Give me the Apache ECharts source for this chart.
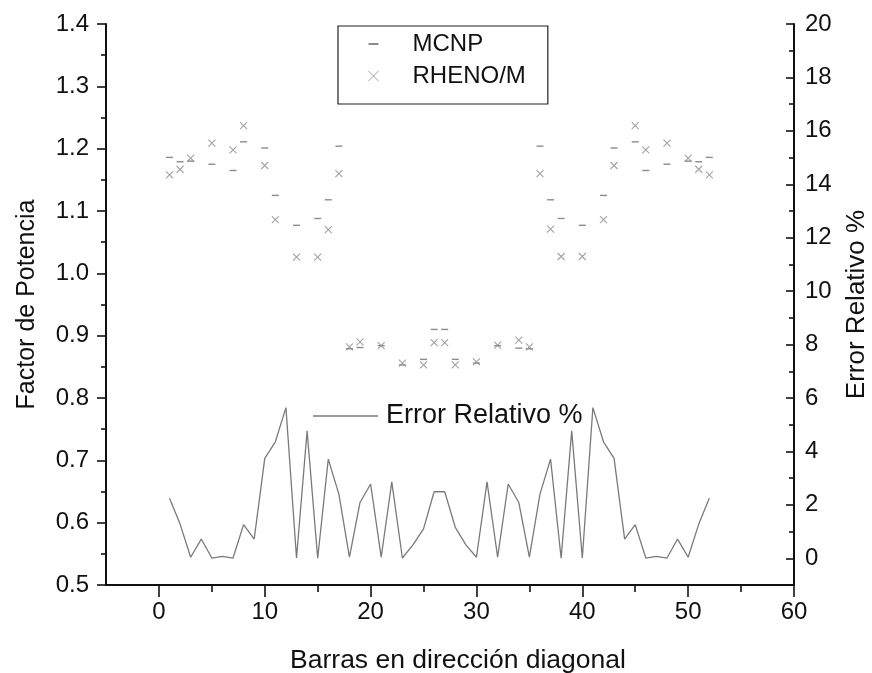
<!DOCTYPE html>
<html>
<head>
<meta charset="utf-8">
<script src="https://cdn.jsdelivr.net/npm/echarts@6/dist/echarts.min.js"></script>
<style>
  html, body { margin: 0; padding: 0; background: #ffffff; }
  #chart { width: 872px; height: 673px; }
</style>
</head>
<body>
<div id="chart"></div>
<script>
// Bar positions along the diagonal that carry a power-factor value
const barPositions = [1, 2, 3, 5, 7, 8, 10, 11, 13, 15, 16, 17, 18, 19, 21, 23, 25, 26, 27, 28, 30, 32, 34, 35,
                      36, 37, 38, 40, 42, 43, 45, 46, 48, 50, 51, 52];
// Power factor computed with MCNP
const mcnp = [1.186, 1.179, 1.180, 1.175, 1.165, 1.211, 1.201, 1.125, 1.077, 1.088, 1.118, 1.204,
              0.879, 0.881, 0.884, 0.853, 0.862, 0.910, 0.910, 0.862, 0.856, 0.884, 0.880, 0.879,
              1.204, 1.118, 1.088, 1.077, 1.125, 1.201, 1.211, 1.165, 1.175, 1.180, 1.179, 1.186];
// Power factor computed with RHENO/M
const rhenoM = [1.158, 1.167, 1.185, 1.209, 1.198, 1.237, 1.173, 1.086, 1.026, 1.026, 1.070, 1.160,
                0.882, 0.890, 0.884, 0.856, 0.853, 0.889, 0.889, 0.853, 0.858, 0.885, 0.893, 0.882,
                1.160, 1.071, 1.027, 1.027, 1.086, 1.173, 1.237, 1.198, 1.209, 1.185, 1.167, 1.158];
// Relative error (%) per bar, bars 1..52
const errorBars = [1, 2, 3, 4, 5, 6, 7, 8, 9, 10, 11, 12, 13, 14, 15, 16, 17, 18, 19, 20, 21, 22, 23, 24, 25, 26,
                   27, 28, 29, 30, 31, 32, 33, 34, 35, 36, 37, 38, 39, 40, 41, 42, 43, 44, 45, 46, 47, 48, 49, 50, 51, 52];
const errorRel = [2.25, 1.28, 0.04, 0.72, 0.01, 0.07, 0.01, 1.26, 0.72, 3.74, 4.36, 5.64, 0.01, 4.77, 0.0, 3.71,
                  2.40, 0.04, 2.09, 2.78, 0.04, 2.86, 0.01, 0.5, 1.10, 2.49, 2.49, 1.16, 0.5, 0.04, 2.86, 0.04,
                  2.78, 2.09, 0.04, 2.40, 3.71, 0.0, 4.77, 0.01, 5.64, 4.36, 3.74, 0.72, 1.26, 0.01, 0.07, 0.01,
                  0.72, 0.04, 1.28, 2.25];

// Tick positions
const xMajorTicks = [0, 10, 20, 30, 40, 50, 60];
const xMinorTicks = [5, 15, 25, 35, 45, 55];
const errMajorTicks = [0, 2, 4, 6, 8, 10, 12, 14, 16, 18, 20];
const errMinorTicks = [1, 3, 5, 7, 9, 11, 13, 15, 17, 19];

const FONT = "'Liberation Sans', Arial, sans-serif";
const INK = '#111111';
const MARK = '#8c8c8c';
const ERR_LINE = '#7a7a7a';
const DASH_ICON = 'path://M0,0h10v2h-10z';
const CROSS_ICON = 'path://M0,0L10,10M10,0L0,10';
const LINE_ICON = 'path://M0,0h65v1.3h-65z';
const TICK_FONT = 24;

const pair = (xs, ys) => xs.map((x, i) => [x, ys[i]]);

const chart = echarts.init(document.getElementById('chart'), null, { renderer: 'canvas' });

chart.setOption({
  animation: false,
  backgroundColor: '#ffffff',
  textStyle: { fontFamily: FONT, color: INK },
  grid: { left: 106, right: 78, top: 24, bottom: 88, containLabel: false, outerBoundsMode: 'none' },
  legend: [
    {
      orient: 'vertical',
      left: 338, top: 26,
      padding: [4, 22, 14, 30],
      itemGap: 4,
      itemWidth: 10, itemHeight: 10,
      borderColor: '#222', borderWidth: 1.2,
      textStyle: { fontFamily: FONT, fontSize: 24, color: INK, padding: [0, 0, 0, 29], lineHeight: 28 },
      itemStyle: { borderWidth: 1 },
      data: [
        { name: 'MCNP', icon: DASH_ICON },
        { name: 'RHENO/M', icon: CROSS_ICON }
      ]
    },
    {
      left: 313, top: 400,
      padding: 0,
      itemWidth: 65, itemHeight: 10,
      textStyle: { fontFamily: FONT, fontSize: 27, color: INK, padding: [0, 0, 0, 3], lineHeight: 32 },
      itemStyle: { color: ERR_LINE },
      data: [{ name: 'Error Relativo %', icon: LINE_ICON }]
    }
  ],
  xAxis: [
    {
      type: 'value', min: -5, max: 60, position: 'bottom',
      name: 'Barras en dirección diagonal', nameLocation: 'middle', nameGap: 62,
      nameTextStyle: { fontFamily: FONT, fontSize: 26.5, color: INK, padding: [0, 0, 0, 16] },
      axisLine: { show: true, onZero: false, lineStyle: { color: INK, width: 2 } },
      axisTick: { show: true, inside: false, length: 12, customValues: xMajorTicks, lineStyle: { color: INK, width: 1.6 } },
      axisLabel: { customValues: xMajorTicks, margin: 15, fontSize: TICK_FONT, color: INK, fontFamily: FONT },
      splitLine: { show: false }
    },
    {
      type: 'value', min: -5, max: 60, position: 'bottom',
      axisLine: { show: false, onZero: false },
      axisTick: { show: true, inside: false, length: 7, customValues: xMinorTicks, lineStyle: { color: INK, width: 1.6 } },
      axisLabel: { show: false },
      splitLine: { show: false }
    }
  ],
  yAxis: [
    {
      type: 'value', min: 0.5, max: 1.4, interval: 0.1, position: 'left',
      name: 'Factor de Potencia', nameLocation: 'middle', nameGap: 66, nameRotate: 90,
      nameTextStyle: { fontFamily: FONT, fontSize: 25, color: INK },
      axisLine: { show: true, onZero: false, lineStyle: { color: INK, width: 2 } },
      axisTick: { show: true, inside: false, length: 9, lineStyle: { color: INK, width: 1.6 } },
      minorTick: { show: true, splitNumber: 2, length: 5, lineStyle: { color: INK, width: 1.6 } },
      axisLabel: { margin: 17, fontSize: TICK_FONT, color: INK, fontFamily: FONT, formatter: v => v.toFixed(1) },
      splitLine: { show: false }
    },
    {
      type: 'value', min: -1, max: 20, position: 'right',
      name: 'Error Relativo %', nameLocation: 'middle', nameGap: 50, nameRotate: 90,
      nameTextStyle: { fontFamily: FONT, fontSize: 26, color: INK },
      axisLine: { show: true, onZero: false, lineStyle: { color: INK, width: 2 } },
      axisTick: { show: true, inside: true, length: 8, customValues: errMajorTicks, lineStyle: { color: INK, width: 1.6 } },
      axisLabel: { customValues: errMajorTicks, margin: 11, fontSize: TICK_FONT, color: INK, fontFamily: FONT },
      splitLine: { show: false }
    },
    {
      type: 'value', min: -1, max: 20, position: 'right',
      axisLine: { show: false, onZero: false },
      axisTick: { show: true, inside: true, length: 5, customValues: errMinorTicks, lineStyle: { color: INK, width: 1.6 } },
      axisLabel: { show: false },
      splitLine: { show: false }
    }
  ],
  series: [
    {
      name: 'MCNP', type: 'scatter', xAxisIndex: 0, yAxisIndex: 0,
      symbol: DASH_ICON, symbolSize: [7, 1.4],
      itemStyle: { color: MARK, opacity: 1 },
      data: pair(barPositions, mcnp)
    },
    {
      name: 'RHENO/M', type: 'scatter', xAxisIndex: 0, yAxisIndex: 0,
      symbol: CROSS_ICON, symbolSize: 7,
      itemStyle: { color: MARK, borderColor: MARK, borderWidth: 1.1 },
      data: pair(barPositions, rhenoM)
    },
    {
      name: 'Error Relativo %', type: 'line', xAxisIndex: 0, yAxisIndex: 1,
      symbol: 'none', showSymbol: false,
      lineStyle: { color: ERR_LINE, width: 1.3 },
      itemStyle: { color: ERR_LINE },
      data: pair(errorBars, errorRel)
    }
  ]
});
</script>
</body>
</html>
